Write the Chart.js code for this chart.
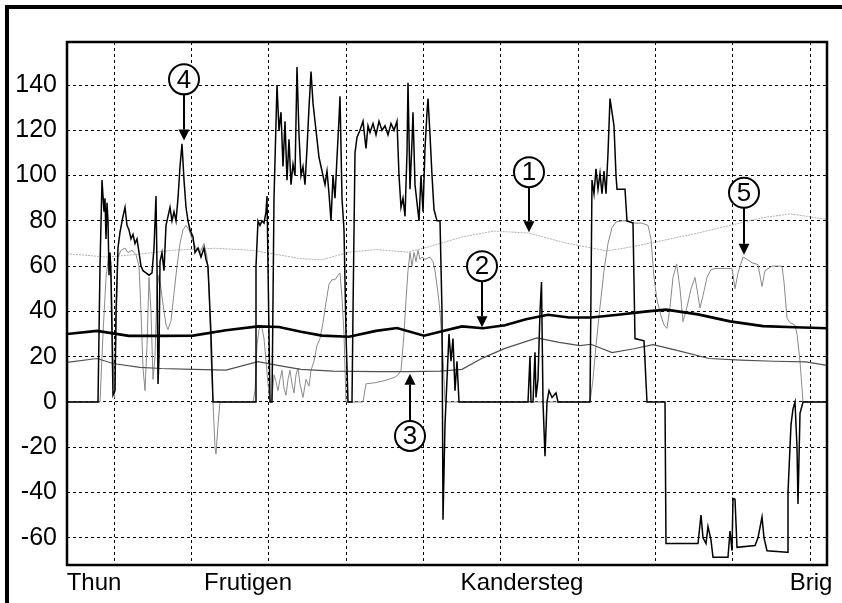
<!DOCTYPE html>
<html><head><meta charset="utf-8">
<script src="https://cdn.jsdelivr.net/npm/chart.js@4.4.1/dist/chart.umd.min.js"></script>
<style>html,body{margin:0;padding:0;background:#fff;}#wrap{width:842px;height:603px;}</style>
</head><body><div id="wrap"><canvas id="c" width="842" height="603"></canvas></div>
<script>
// grid positions (distance units) and tick labels
const gridX = [4.73, 12.46, 20.19, 27.92, 35.65, 43.38, 51.11, 58.84, 66.57, 74.3];
const yTicks = [-60, -40, -20, 0, 20, 40, 60, 80, 100, 120, 140];
const stations = ['Thun', 'Frutigen', 'Kandersteg', 'Brig'];
const stationPos = [2.7, 18.1, 45.5, 74.4];

// series 1 (light grey)
const s1x = [0,4.0,7.3,10.5,14.8,18.5,23.4,25.5,28.2,30.9,34.1,36.3,39.5,42.7,46.2,49.7,54.0,56.7,60.4,63.1,66.3,69.6,72.3,74.9,76.0];
const s1y = [65.5,64.0,65.3,67.0,67.9,67.0,63.3,62.8,66.2,67.3,66.2,68.7,72.9,75.5,74.6,70.4,66.7,68.7,72.1,74.6,78.0,81.4,83.1,81.4,80.6];
// series 2 (thick black)
const s2x = [0,3.0,6.2,9.4,12.6,15.9,19.1,21.2,23.4,25.5,28.2,30.9,33.0,35.7,37.3,39.5,41.6,43.8,45.9,48.1,50.2,52.4,55.1,57.8,59.9,63.1,66.3,69.6,72.8,76.0];
const s2y = [30.0,31.4,29.2,29.2,29.3,31.7,33.4,33.1,31.0,29.3,28.8,31.4,32.7,29.3,31.0,33.4,32.6,33.9,36.5,38.5,37.3,37.3,38.5,39.9,40.8,38.7,35.6,33.5,33.0,32.6];
// series 3 (thin dark grey)
const s3x = [0,3.0,4.6,7.3,9.4,12.6,15.9,19.1,21.2,23.4,26.6,30.9,34.1,37.3,39.5,41.6,43.8,47.0,49.2,51.3,52.4,54.5,56.7,58.6,61.0,64.2,67.4,70.6,73.9,76.0];
const s3y = [17.5,19.2,17.0,15.3,14.8,14.4,14.1,17.8,16.1,14.4,13.6,13.4,13.4,13.6,14.4,19.5,23.7,28.3,26.3,24.9,25.5,21.8,23.5,25.3,22.8,19.2,18.5,18.0,17.7,16.2];
// series 4 (black, jagged)
const s4x = [0,3.1,3.3,3.5,3.7,3.8,3.9,4.0,4.1,4.2,4.3,4.4,4.5,4.6,4.8,4.9,5.1,5.3,5.6,5.8,6.0,6.2,6.4,6.6,6.8,7.0,7.2,7.4,7.6,7.9,8.2,8.5,8.7,8.9,9.0,9.1,9.2,9.3,9.5,9.7,9.9,10.1,10.3,10.5,10.7,10.9,11.1,11.3,11.5,11.7,11.9,12.1,12.3,12.6,12.8,13.1,13.4,13.7,13.9,14.1,14.4,14.6,
18.8,18.9,19.1,19.3,19.5,19.7,19.9,20.0,20.1,20.3,20.5,20.7,21.0,21.2,21.4,21.6,21.8,22.0,22.2,22.4,22.6,22.8,23.0,23.2,23.4,23.6,23.8,24.0,24.2,24.4,24.6,24.8,25.0,25.2,25.4,25.6,25.8,26.0,26.2,26.4,26.6,26.8,27.0,27.2,27.3,27.5,27.7,27.9,28.1,
28.5,28.6,28.8,29.0,29.3,29.6,29.9,30.1,30.3,30.6,30.9,31.2,31.5,31.8,32.1,32.4,32.7,33.0,33.2,33.4,33.6,33.8,34.0,34.1,34.3,34.5,34.6,34.8,35.0,35.2,35.4,35.6,35.8,36.0,36.1,36.3,36.5,36.7,37.0,37.3,37.5,37.6,37.8,38.0,38.2,38.4,38.6,38.8,39.0,39.2,
46.1,46.3,46.4,46.6,46.8,46.9,47.1,47.3,47.45,47.6,47.8,48.0,48.2,48.5,48.9,49.1,
52.3,52.5,52.7,52.9,53.1,53.3,53.5,53.7,53.9,54.1,54.3,54.5,54.7,54.9,55.0,55.8,56.0,56.6,56.8,57.7,58.0,
59.8,59.9,63.1,63.4,63.6,63.9,64.1,64.4,64.6,66.1,66.3,66.5,66.6,66.8,67.0,68.8,69.1,69.5,69.7,70.0,72.0,72.1,72.4,72.6,72.8,73.0,73.1,73.3,73.6,76.0];
const s4y = [0,0,60,98,84,90,72,88,80,56,66,55,30,3,5,40,68,75,82,86,78,76,72,74,70,72,66,60,58,57,56,57,68,91,60,8,20,62,66,58,78,82,86,80,84,80,90,104,114,98,86,80,76,73,66,68,64,68,63,60,30,0,
0,60,80,78,80,79,84,91,60,0,0,90,140,120,128,104,124,98,116,96,105,100,148,118,100,104,96,112,130,146,132,124,116,108,104,100,96,102,92,80,100,90,108,125,135,90,76,30,0,
0,40,110,117,120,124,112,122,119,123,118,124,120,122,118,123,120,124,100,86,90,82,110,141,94,115,128,96,88,80,100,84,112,128,134,118,100,85,80,80,40,-52,-10,10,30,18,28,5,18,0,
0,20,0,0,22,2,10,40,53,0,-24,0,5,2,4,0,
0,98,92,103,94,101,92,102,92,110,134,128,122,100,94,94,80,79,28,27,0,
0,-62.5,-62.5,-50,-60,-62.5,-55,-61,-68.6,-68.6,-57,-65.7,-42.6,-43,-64.2,-63.4,-60,-50.8,-60,-65.7,-66.4,-40,-10,-3,0,-20,-45,-5,0,0];
// series 5 (grey)
const s5x = [0,3.3,3.6,3.9,4.2,4.4,4.6,4.75,4.9,5.1,5.4,5.8,6.1,6.5,6.9,7.2,7.4,7.6,7.8,8.0,8.2,8.4,8.6,8.8,9.0,9.2,9.4,9.7,9.9,10.1,10.4,10.7,11.0,11.3,11.6,11.9,12.2,12.5,12.9,13.3,13.7,14.0,14.2,14.4,14.6,14.8,14.9,15.1,15.3,
18.6,18.8,19.0,19.2,19.45,19.7,19.9,20.1,20.3,20.5,20.7,20.9,21.1,21.3,21.5,21.7,21.9,22.1,22.3,22.5,22.7,22.9,23.1,23.3,23.6,23.9,24.2,24.4,24.7,25.0,25.3,25.6,25.9,26.2,26.5,26.8,27.1,27.3,27.5,27.7,27.9,
29.6,29.9,30.8,31.8,32.8,33.1,33.4,33.7,33.9,34.1,34.3,34.5,34.7,34.9,35.1,35.3,35.5,35.8,36.3,36.6,36.8,37.1,37.3,37.6,37.8,
52.3,52.6,52.9,53.3,53.7,54.1,54.5,54.9,55.5,56.1,56.8,57.5,58.1,58.4,58.7,59.0,59.4,59.7,60.0,60.3,60.6,60.97,61.3,61.6,62.0,62.4,62.8,63.1,63.3,63.6,64.0,64.4,64.9,66.5,66.8,67.1,67.6,68.0,68.5,69.1,69.5,69.8,70.5,71.5,71.7,72.0,72.3,72.8,73.0,73.3,73.6,76.0];
const s5y = [0,0,30,55,66,62,20,2,30,64,67,68,66,67,65,60,40,15,5,25,55,40,10,20,50,56,50,40,34,32,36,48,60,70,76,78,76,72,68,66,70,64,50,20,0,-20,-23,-10,0,
0,5,25,32,34,28,18,8,0,2,12,9,5,10,14,6,3,10,14,8,4,12,15,8,2,10,7,14,18,25,28,35,44,52,54,54,56,57,46,30,0,
0,8,8.5,9.5,11,12,14,30,45,58,66,60,66,62,67,63,64,63,64,62,58,48,40,20,0,
0,10,25,42,58,70,77,79.5,80,80,79,79,78,72,55,45,38,34,32.5,42,55,61,50,35.5,42,50,55,47,41.5,47,55,58.5,59,59,50,57,64,63,61.5,60.7,51,58,60,60,53,37,35,34,30,18,0,0];

// callouts: circled number, its centre and where the arrow points
const noteLabels = ['1', '2', '3', '4', '5'];
const noteX = [46.2, 41.5, 34.3, 11.7, 67.7];
const noteY = [101.5, 60.0, -15.0, 142.5, 92.4];
const noteTip = [75.0, 33.0, 12.5, 115.5, 65.0];

const FONT = "'Liberation Sans', Arial, sans-serif";
const pts = (xs, ys) => xs.map((x, i) => ({x: x, y: ys[i]}));

const framePlugin = {
  id: 'frame',
  afterDraw(chart) {
    const {ctx, chartArea: a} = chart;
    ctx.save();
    ctx.strokeStyle = '#000';
    ctx.lineWidth = 2.5;
    ctx.strokeRect(a.left, a.top, a.right - a.left, a.bottom - a.top);
    ctx.lineWidth = 4;
    ctx.beginPath();
    ctx.moveTo(7, 603); ctx.lineTo(7, 7); ctx.lineTo(842, 7);
    ctx.stroke();
    ctx.restore();
  }
};

const notesPlugin = {
  id: 'notes',
  afterDatasetsDraw(chart) {
    const {ctx} = chart;
    const xs = chart.scales.x, ys = chart.scales.y;
    const r = 15, head = 11, hw = 5.5;
    ctx.save();
    noteLabels.forEach((lab, i) => {
      const cx = xs.getPixelForValue(noteX[i]);
      const cy = ys.getPixelForValue(noteY[i]);
      const ty = ys.getPixelForValue(noteTip[i]);
      const dir = ty > cy ? 1 : -1;
      ctx.strokeStyle = '#000'; ctx.fillStyle = '#000'; ctx.lineWidth = 2;
      ctx.beginPath();
      ctx.moveTo(cx, cy + dir * r);
      ctx.lineTo(cx, ty - dir * head);
      ctx.stroke();
      ctx.beginPath();
      ctx.moveTo(cx, ty);
      ctx.lineTo(cx - hw, ty - dir * head);
      ctx.lineTo(cx + hw, ty - dir * head);
      ctx.closePath(); ctx.fill();
      ctx.beginPath();
      ctx.arc(cx, cy, r, 0, Math.PI * 2);
      ctx.fillStyle = '#fff'; ctx.fill();
      ctx.stroke();
      ctx.fillStyle = '#000';
      ctx.font = '26px ' + FONT;
      ctx.textAlign = 'center'; ctx.textBaseline = 'middle';
      ctx.fillText(lab, cx, cy + 1);
    });
    ctx.restore();
  }
};

new Chart(document.getElementById('c'), {
  type: 'line',
  data: {
    datasets: [
      {label: '4', data: pts(s4x, s4y), borderColor: '#000', borderWidth: 1.5, order: 0},
      {label: '2', data: pts(s2x, s2y), borderColor: '#000', borderWidth: 2.6, order: 1},
      {label: '3', data: pts(s3x, s3y), borderColor: '#505050', borderWidth: 1.2, order: 2},
      {label: '5', data: pts(s5x, s5y), borderColor: '#8a8a8a', borderWidth: 1, order: 3},
      {label: '1', data: pts(s1x, s1y), borderColor: '#b0b0b0', borderWidth: 1, borderDash: [2, 1], order: 4}
    ]
  },
  options: {
    responsive: false,
    animation: false,
    devicePixelRatio: 1,
    elements: {point: {radius: 0}, line: {tension: 0, fill: false}},
    layout: {padding: {top: 42, right: 15, left: 0, bottom: 0}},
    plugins: {legend: {display: false}, tooltip: {enabled: false}},
    scales: {
      x: {
        type: 'linear', min: 0, max: 76, position: 'bottom',
        afterBuildTicks: s => { s.ticks = gridX.map(v => ({value: v})); },
        ticks: {display: false},
        grid: {color: '#000', lineWidth: 1, drawTicks: false},
        border: {display: false, dash: [3, 3]},
        afterFit: s => { s.height = 0; }
      },
      x2: {
        type: 'linear', min: 0, max: 76, position: 'bottom',
        afterBuildTicks: s => { s.ticks = stationPos.map(v => ({value: v})); },
        ticks: {autoSkip: false, maxRotation: 0, color: '#000', padding: 4,
                font: {family: FONT, size: 24},
                callback: (v, i) => stations[i]},
        grid: {display: false, drawTicks: false},
        border: {display: false},
        afterFit: s => { s.height = 38; }
      },
      y: {
        type: 'linear', min: -72, max: 159,
        afterBuildTicks: s => { s.ticks = yTicks.map(v => ({value: v})); },
        ticks: {color: '#000', padding: 10, font: {family: FONT, size: 25},
                callback: v => String(v)},
        grid: {color: '#000', lineWidth: 1, drawTicks: false},
        border: {display: false, dash: [3, 3]},
        afterFit: s => { s.width = 67; }
      }
    }
  },
  plugins: [framePlugin, notesPlugin]
});
</script>
</body></html>
